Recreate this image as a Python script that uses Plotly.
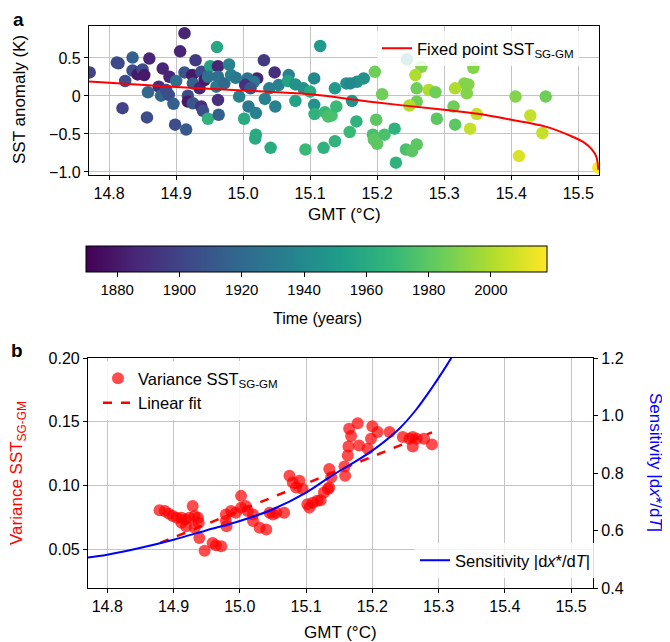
import plotly.graph_objects as go

# ---- panel a: GMT vs SST anomaly, coloured by year ----
gmt_a = [14.771, 14.9125, 14.8115, 14.814, 14.835, 14.86, 14.835, 14.8425, 14.85, 14.8525,
         14.824, 14.88, 14.89, 14.906, 14.9125, 14.90, 14.874, 14.858, 14.8775, 14.885,
         14.889, 14.896, 14.82, 14.8565, 14.8985, 14.915, 14.9175, 14.9175, 14.924, 14.925,
         14.929, 14.925, 14.935, 14.9375, 14.9425, 14.9375, 14.94, 14.9475, 14.961, 14.951,
         14.9625, 14.9475, 14.9625, 14.96, 14.9625,
         14.979, 14.972, 14.982, 14.989, 15.031, 15.047, 15.068, 15.021, 15.0065, 15.016,
         15.003, 15.011, 14.994, 14.9635, 15.008, 15.019, 15.0015, 15.0325, 15.039, 15.048,
         15.053, 15.067, 15.078, 15.078, 15.09, 15.10, 15.106, 15.115, 15.106, 15.1065,
         15.122, 15.127, 15.132, 15.139, 15.137, 15.154, 15.019, 15.018, 15.041, 15.093,
         15.12, 15.137, 15.159,
         15.2446, 15.1965, 15.18, 15.17, 15.16, 15.1625, 15.2074, 15.266, 15.257, 15.259,
         15.277, 15.287, 15.259, 15.248, 15.3436, 15.330, 15.336, 15.3163, 15.3337, 15.3139,
         15.289, 15.3163, 15.3386, 15.169, 15.1985, 15.1936, 15.2, 15.195, 15.211, 15.226,
         15.243, 15.252, 15.259, 15.228,
         15.3485, 15.4065, 15.4515, 15.4285, 15.4465, 15.4115, 15.53]
sst_a = [0.309, 0.826, 0.439, 0.43, 0.504, 0.491, 0.335, 0.283, 0.348, 0.274,
         0.196, 0.361, 0.252, 0.587, 0.309, 0.196, 0.122, 0.048, 0.004, 0.078,
         0.013, -0.104, -0.161, -0.283, -0.378, -0.443, 0.004, -0.074, 0.274, 0.165,
         0.47, -0.096, 0.10, 0.317, 0.209, -0.139, -0.196, -0.30, 0.643, 0.391,
         0.391, 0.252, 0.252, 0.122, -0.052,
         0.413, 0.165, 0.274, 0.239, 0.47, 0.309, 0.274, 0.23, 0.23, 0.187,
         0.143, 0.10, -0.009, -0.248, -0.139, -0.226, -0.30, -0.039, 0.10, -0.139,
         0.143, 0.196, 0.152, -0.065, 0.10, 0.057, 0.23, 0.657, -0.117, -0.239,
         -0.213, -0.27, -0.257, -0.139, 0.10, 0.165, -0.509, -0.561, -0.683, -0.704,
         -0.683, -0.596, -0.474,
         0.483, 0.317, 0.23, 0.187, 0.165, -0.065, 0.022, 0.383, 0.274, 0.10,
         0.078, 0.048, -0.074, -0.126, 0.37, 0.165, 0.152, 0.10, 0.035, -0.139,
         -0.30, -0.378, -0.43, -0.335, -0.313, -0.509, -0.630, -0.574, -0.509, -0.43,
         -0.704, -0.726, -0.639, -0.878,
         -0.239, -0.009, -0.009, -0.257, -0.487, -0.791, -0.943]
year_a = [1900, 1885, 1905, 1903, 1915, 1885, 1905, 1880, 1905, 1880,
          1905, 1885, 1885, 1885, 1910, 1925, 1890, 1920, 1920, 1905,
          1905, 1915, 1900, 1905, 1905, 1912, 1905, 1880, 1880, 1915,
          1895, 1910, 1885, 1905, 1880, 1890, 1905, 1965, 1958, 1955,
          1885, 1925, 1925, 1930, 1890,
          1935, 1920, 1935, 1930, 1895, 1890, 1935, 1885, 1925, 1930,
          1890, 1910, 1935, 1915, 1930, 1935, 1960, 1935, 1935, 1935,
          1935, 1955, 1945, 1955, 1945, 1960, 1940, 1950, 1945, 1965,
          1970, 1975, 1975, 1970, 1950, 1945, 1960, 1960, 1960, 1970,
          1965, 1965, 1970,
          1950, 1985, 1945, 1945, 1940, 1945, 1985, 1990, 2000, 1985,
          2000, 1985, 1985, 2000, 1990, 1990, 1990, 2000, 1990, 1985,
          1980, 1980, 2005, 1965, 1980, 1975, 1980, 1980, 1975, 1965,
          1975, 1980, 1980, 1965,
          2005, 1990, 1985, 2005, 2005, 2010, 2018]

# fixed point curve
fp_gmt = [14.77, 14.8, 14.9, 15.0, 15.1, 15.2, 15.3, 15.35, 15.4, 15.45, 15.49, 15.51, 15.52, 15.527, 15.53]
fp_sst = [0.19, 0.172, 0.117, 0.072, 0.022, -0.087, -0.183, -0.235, -0.313, -0.40, -0.53, -0.62, -0.70, -0.80, -0.97]

# ---- panel b: variance and sensitivity ----
gmt_b = [14.879, 14.887, 14.893, 14.899, 14.905, 14.912, 14.918, 14.924, 14.932, 14.929,
         14.937, 14.938, 14.919, 14.912, 14.932, 14.939, 14.947, 14.959, 14.964, 14.972,
         14.979, 14.980, 14.979, 14.987, 14.994, 15.002, 15.002, 15.009, 15.012, 15.020,
         15.020, 15.030, 15.040, 15.045, 15.050, 15.055, 15.067, 15.075, 15.080, 15.090,
         15.085, 15.095, 15.102, 15.105, 15.110, 15.117, 15.122, 15.127, 15.135, 15.135,
         15.138, 15.133, 15.158, 15.159, 15.163, 15.164, 15.168, 15.165, 15.178, 15.180,
         15.193, 15.198, 15.200, 15.208, 15.226, 15.246, 15.256, 15.261, 15.261, 15.267,
         15.278, 15.290]
var_b = [0.0808, 0.0803, 0.0782, 0.0763, 0.075, 0.075, 0.0737, 0.075, 0.0763, 0.0842,
         0.075, 0.0711, 0.0684, 0.0711, 0.0671, 0.0592, 0.0492, 0.0553, 0.0534, 0.0526,
         0.0724, 0.0684, 0.0776, 0.0803, 0.0789, 0.0921, 0.0829, 0.0842, 0.0803, 0.0776,
         0.0724, 0.0671, 0.0658, 0.0789, 0.0776, 0.0789, 0.0789, 0.1079, 0.1026, 0.1039,
         0.0987, 0.0974, 0.0855, 0.0829, 0.0868, 0.0882, 0.0887, 0.0947, 0.0987, 0.1132,
         0.1066, 0.0974, 0.115, 0.1079, 0.1237, 0.1308, 0.139, 0.1447, 0.149, 0.1316,
         0.129, 0.1368, 0.1466, 0.1421, 0.1421, 0.1382, 0.1368, 0.1382, 0.1308, 0.1368,
         0.1368, 0.1324]

fit_gmt = [14.88, 15.29]
fit_var = [0.0553, 0.1418]

sens_gmt = [14.771, 14.8, 14.849, 14.9, 14.949, 15.0, 15.05, 15.1, 15.135, 15.2, 15.241, 15.266, 15.291, 15.311, 15.323, 15.33]
sens_val = [0.506, 0.516, 0.539, 0.568, 0.6, 0.633, 0.674, 0.732, 0.785, 0.878, 0.955, 1.02, 1.10, 1.17, 1.215, 1.245]

# page body has an 8px margin, so the figure is drawn 8px in from the window edge
OFF = 8
W, H = 670 - OFF, 642 - OFF
FONT = "Liberation Sans, Arial, sans-serif"


def px(x):
    return (x - OFF) / W


def py(y):
    return 1 - (y - OFF) / H


fig = go.Figure()

fig.add_trace(go.Scatter(
    x=gmt_a, y=sst_a, mode="markers", showlegend=False,
    marker=dict(size=12.5, color=year_a, colorscale="Viridis", cmin=1870, cmax=2018,
                line=dict(width=0),
                colorbar=dict(orientation="h", x=px(86), xanchor="left", y=py(246), yanchor="top",
                              len=461, lenmode="pixels", thickness=26, xpad=0, ypad=0,
                              outlinewidth=1, outlinecolor="black",
                              ticks="outside", ticklen=5, tickcolor="black",
                              tickvals=[1880, 1900, 1920, 1940, 1960, 1980, 2000],
                              tickfont=dict(size=15, color="black"))),
    xaxis="x", yaxis="y"))

fig.add_trace(go.Scatter(
    x=fp_gmt, y=fp_sst, mode="lines", line=dict(color="red", width=2, shape="spline"),
    name="Fixed point SST<sub>SG-GM</sub>", legend="legend", xaxis="x", yaxis="y"))

fig.add_trace(go.Scatter(
    x=gmt_b, y=var_b, mode="markers", marker=dict(color="red", size=12, opacity=0.7, line=dict(width=0)),
    name="Variance SST<sub>SG-GM</sub>", legend="legend2", xaxis="x2", yaxis="y2"))

fig.add_trace(go.Scatter(
    x=fit_gmt, y=fit_var, mode="lines", line=dict(color="red", width=2.5, dash="dash"),
    name="Linear fit", legend="legend2", xaxis="x2", yaxis="y2"))

fig.add_trace(go.Scatter(
    x=sens_gmt, y=sens_val, mode="lines", line=dict(color="blue", width=2, shape="spline"),
    name="Sensitivity |d<i>x</i>*/d<i>T</i>|", legend="legend3", xaxis="x2", yaxis="y3"))

axis_common = dict(showline=True, linecolor="black", linewidth=1.2, ticks="outside", ticklen=4,
                   tickcolor="black", showgrid=True, gridcolor="#c4c4c4", gridwidth=1.2,
                   zeroline=False, automargin=False, tickfont=dict(size=16, color="black"))

xticks = [14.8, 14.9, 15.0, 15.1, 15.2, 15.3, 15.4, 15.5]
xlabels = ["14.8", "14.9", "15.0", "15.1", "15.2", "15.3", "15.4", "15.5"]

fig.update_layout(
    template="none",
    width=W, height=H,
    margin=dict(l=0, r=0, t=0, b=0, pad=0),
    paper_bgcolor="white", plot_bgcolor="white",
    font=dict(family=FONT, size=16, color="black"),
    xaxis=dict(domain=[px(89), px(599)], range=[14.77, 15.531], tickvals=xticks, ticktext=xlabels,
               mirror=True, anchor="y", **axis_common),
    yaxis=dict(domain=[py(175), py(26)], range=[-1.04, 0.92], tickvals=[0.5, 0, -0.5, -1.0],
               ticktext=["0.5", "0", "\u22120.5", "\u22121.0"], mirror=True, anchor="x", **axis_common),
    xaxis2=dict(domain=[px(88), px(593)], range=[14.771, 15.533], tickvals=xticks, ticktext=xlabels,
                mirror=True, anchor="y2", **axis_common),
    yaxis2=dict(domain=[py(588), py(358)], range=[0.02, 0.20], tickvals=[0.05, 0.10, 0.15, 0.20],
                ticktext=["0.05", "0.10", "0.15", "0.20"], anchor="x2", **axis_common),
    yaxis3=dict(domain=[py(588), py(358)], range=[0.4, 1.2], overlaying="y2", side="right", anchor="x2",
                tickvals=[0.4, 0.6, 0.8, 1.0, 1.2], ticktext=["0.4", "0.6", "0.8", "1.0", "1.2"],
                showline=True, linecolor="black", linewidth=1.2, ticks="outside", ticklen=4,
                tickcolor="black", showgrid=False, zeroline=False, automargin=False,
                tickfont=dict(size=16, color="black")),
    legend=dict(x=px(377), y=py(31), xanchor="left", yanchor="top", bgcolor="rgba(255,255,255,0.85)",
                font=dict(size=16.5), borderwidth=0),
    legend2=dict(x=px(98), y=py(361), xanchor="left", yanchor="top", bgcolor="rgba(255,255,255,0.85)",
                 font=dict(size=16.5), borderwidth=0, tracegroupgap=0),
    legend3=dict(x=px(415), y=py(543), xanchor="left", yanchor="top", bgcolor="rgba(255,255,255,0.85)",
                 font=dict(size=16.5), borderwidth=0),
)

ann = [
    dict(text="<b>a</b>", x=px(18), y=py(20), font=dict(size=19, color="black", family=FONT)),
    dict(text="<b>b</b>", x=px(17), y=py(350), font=dict(size=19, color="black", family=FONT)),
    dict(text="GMT (\u00b0C)", x=px(344), y=py(214)),
    dict(text="Time (years)", x=px(317), y=py(318), font=dict(size=16, color="black", family=FONT)),
    dict(text="SST anomaly (K)", x=px(20), y=py(100), textangle=-90),
    dict(text="GMT (\u00b0C)", x=px(340), y=py(632)),
    dict(text="Variance SST<sub>SG-GM</sub>", x=px(18), y=py(473), textangle=-90,
         font=dict(color="red", size=17, family=FONT)),
    dict(text="Sensitivity |d<i>x</i>*/d<i>T</i>|", x=px(656), y=py(462), textangle=90,
         font=dict(color="blue", size=17, family=FONT)),
]
for a in ann:
    if "font" not in a:
        a["font"] = dict(size=17, color="black", family=FONT)
    fig.add_annotation(xref="paper", yref="paper", showarrow=False, xanchor="center", yanchor="middle", **a)

fig.write_html("out.html")
